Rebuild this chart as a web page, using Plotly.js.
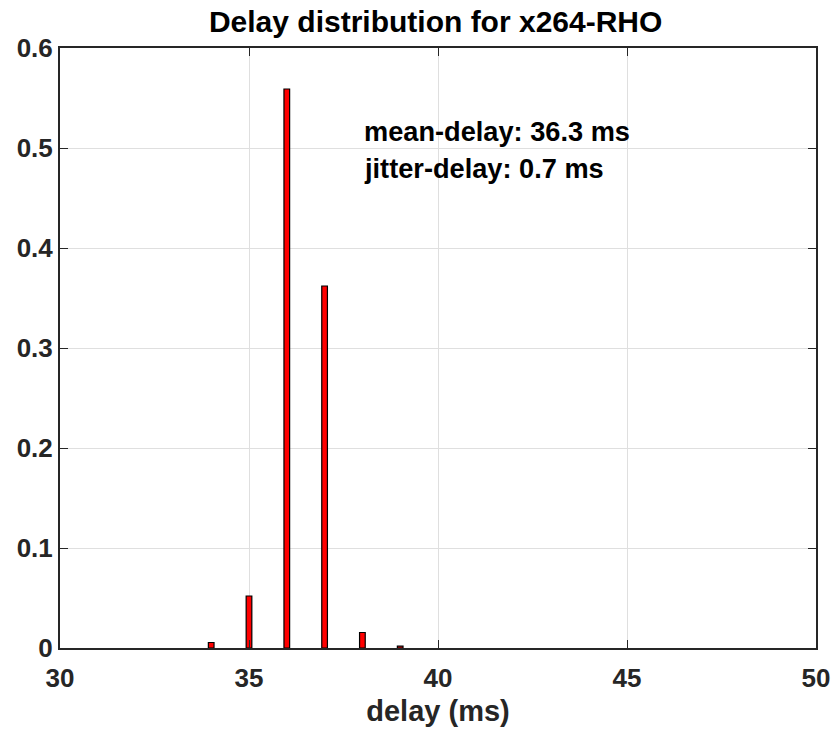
<!DOCTYPE html>
<html>
<head>
<meta charset="utf-8">
<script src="https://cdn.plot.ly/plotly-3.0.1.min.js"></script>
<style>html,body{margin:0;padding:0;background:#fff;}</style>
</head>
<body>
<div id="chart" style="width:833px;height:735px;"></div>
<script>
const delays = [34, 35, 36, 37, 38, 39];
const probs = [0.0055, 0.052, 0.559, 0.362, 0.0155, 0.0018];
const xTicks = [30, 35, 40, 45, 50];
const yTicks = [0, 0.1, 0.2, 0.3, 0.4, 0.5, 0.6];
const yTickLabels = ['0', '0.1', '0.2', '0.3', '0.4', '0.5', '0.6'];
const annotationLines = ['mean-delay: 36.3 ms', 'jitter-delay: 0.7 ms'];
const annotationY = [0.517, 0.48];
const annotationX = 37.98;

const font = 'Arial, "Liberation Sans", Helvetica, sans-serif';
const axisColor = '#262626';

const trace = {
  type: 'bar',
  x: delays,
  y: probs,
  width: 0.15,
  marker: {color: '#ff0000', line: {color: '#000000', width: 1.2}},
  hoverinfo: 'x+y'
};

const layout = {
  width: 833,
  height: 735,
  margin: {l: 60, r: 17, t: 48, b: 87},
  paper_bgcolor: '#ffffff',
  plot_bgcolor: '#ffffff',
  showlegend: false,
  font: {family: font, color: axisColor},
  title: {
    text: '<b>Delay distribution for x264-RHO</b>',
    font: {family: font, size: 30, color: '#000000'},
    x: 0.523, xanchor: 'center', xref: 'container',
    y: 0.985, yanchor: 'top', yref: 'container'
  },
  xaxis: {
    range: [30, 50],
    tickvals: xTicks,
    ticktext: xTicks.map(v => '<b>' + v + '</b>'),
    tickfont: {family: font, size: 26, color: axisColor},
    ticks: 'inside', ticklen: 8, tickcolor: axisColor, tickwidth: 1,
    ticklabelstandoff: 6,
    showgrid: true, gridcolor: '#dfdfdf', gridwidth: 1,
    showline: true, linecolor: axisColor, linewidth: 2, mirror: 'ticks',
    zeroline: false,
    title: {text: '<b>delay (ms)</b>', font: {family: font, size: 29, color: axisColor}, standoff: 8}
  },
  yaxis: {
    range: [0, 0.6],
    tickvals: yTicks,
    ticktext: yTickLabels.map(v => '<b>' + v + '</b>'),
    tickfont: {family: font, size: 26, color: axisColor},
    ticks: 'inside', ticklen: 8, tickcolor: axisColor, tickwidth: 1,
    showgrid: true, gridcolor: '#dfdfdf', gridwidth: 1,
    showline: true, linecolor: axisColor, linewidth: 2, mirror: 'ticks',
    zeroline: false
  },
  annotations: annotationLines.map((t, i) => ({
    x: annotationX, y: annotationY[i], xref: 'x', yref: 'y',
    text: '<b>' + t + '</b>', showarrow: false,
    xanchor: 'left', yanchor: 'middle',
    font: {family: font, size: 27.2, color: '#000000'}
  }))
};

Plotly.newPlot('chart', [trace], layout, {displayModeBar: false, staticPlot: true});
</script>
</body>
</html>
